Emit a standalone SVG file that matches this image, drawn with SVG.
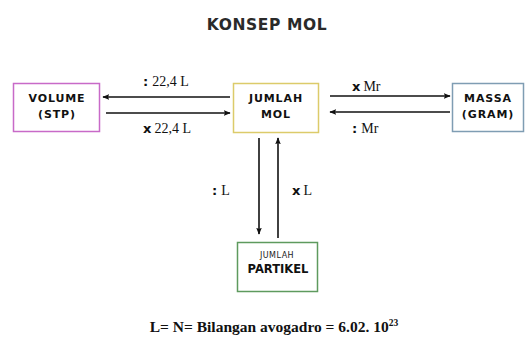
<svg xmlns="http://www.w3.org/2000/svg" width="526" height="338" viewBox="0 0 526 338">
<defs>
<marker id="ah" viewBox="0 0 10 10" refX="9" refY="5" markerWidth="7" markerHeight="7" orient="auto-start-reverse" markerUnits="userSpaceOnUse">
<path d="M0,1 L10,5 L0,9 L2,5 Z" fill="#111"/>
</marker>
<style>
.box{fill:#fff;stroke-width:1.5}
.nl{font-family:"DejaVu Sans",Verdana,sans-serif;font-weight:bold;font-size:11px;fill:#111;text-anchor:middle;letter-spacing:0.9px}
.lb{font-family:"Liberation Serif","Times New Roman",serif;font-size:14px;fill:#111}
.op{font-family:"DejaVu Sans",sans-serif;font-weight:bold;font-size:13px;fill:#111}
.ar{stroke:#111;stroke-width:1.6;fill:none;marker-end:url(#ah)}
</style>
</defs>
<rect width="526" height="338" fill="#fff"/>
<text x="267" y="30" font-family="DejaVu Sans,Verdana,sans-serif" font-size="15.5" font-weight="bold" fill="#2a2a2a" text-anchor="middle" letter-spacing="0.6">KONSEP MOL</text>

<g id="volume">
<rect class="box" x="13.5" y="83.5" width="86" height="48" stroke="#c86ac8"/>
<text class="nl" x="57" y="102">VOLUME</text>
<text class="nl" x="57" y="118">(STP)</text>
</g>
<g id="mol">
<rect class="box" x="233.5" y="83.5" width="85" height="49" stroke="#dccb6a"/>
<text class="nl" x="276" y="102">JUMLAH</text>
<text class="nl" x="276" y="118">MOL</text>
</g>
<g id="massa">
<rect class="box" x="452.5" y="83.5" width="71" height="48" stroke="#7f9db3"/>
<text class="nl" x="488" y="102">MASSA</text>
<text class="nl" x="488" y="118">(GRAM)</text>
</g>
<g id="partikel">
<rect class="box" x="237.5" y="242.5" width="80" height="49" stroke="#5e9a5e"/>
<text x="277" y="258" font-family="DejaVu Sans,sans-serif" font-size="8" fill="#222" text-anchor="middle" letter-spacing="0.5">JUMLAH</text>
<text x="278" y="273" font-family="DejaVu Sans,sans-serif" font-weight="bold" font-size="11.5" fill="#111" text-anchor="middle">PARTIKEL</text>
</g>

<g id="connectors">
<line class="ar" x1="230" y1="97" x2="103" y2="97"/>
<line class="ar" x1="106" y1="113" x2="230" y2="113"/>
<line class="ar" x1="330" y1="96" x2="450" y2="96"/>
<line class="ar" x1="450" y1="112" x2="330" y2="112"/>
<line class="ar" x1="259" y1="138" x2="259" y2="234"/>
<line class="ar" x1="278" y1="238" x2="278" y2="138"/>
<text x="143" y="86"><tspan class="op">:</tspan><tspan class="lb" dx="4">22,4 L</tspan></text>
<text x="143" y="133"><tspan class="op">x</tspan><tspan class="lb" dx="3">22,4 L</tspan></text>
<text x="352" y="91"><tspan class="op">x</tspan><tspan class="lb" dx="3">Mr</tspan></text>
<text x="352" y="133"><tspan class="op">:</tspan><tspan class="lb" dx="4">Mr</tspan></text>
<text x="212" y="195"><tspan class="op">:</tspan><tspan class="lb" dx="4">L</tspan></text>
<text x="292" y="195"><tspan class="op">x</tspan><tspan class="lb" dx="3">L</tspan></text>
</g>

<text x="274" y="332" font-family="Liberation Serif,Times New Roman,serif" font-weight="bold" font-size="15.5" fill="#111" text-anchor="middle">L= N= Bilangan avogadro = 6.02. 10<tspan font-size="9.5" dy="-6">23</tspan></text>
</svg>
